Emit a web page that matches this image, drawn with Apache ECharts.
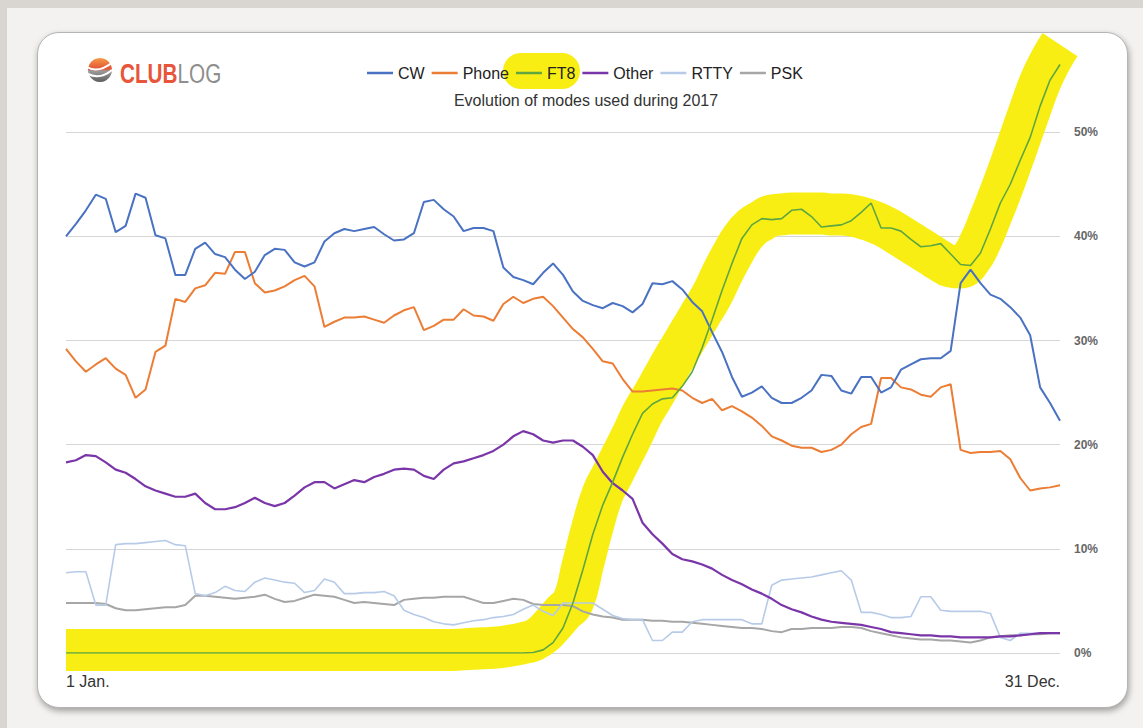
<!DOCTYPE html>
<html>
<head>
<meta charset="utf-8">
<script src="https://cdn.jsdelivr.net/npm/echarts@6/dist/echarts.min.js"></script>
<style>
html,body{margin:0;padding:0;width:1143px;height:728px;overflow:hidden;background:#f3f2f0;}
#frameL{position:absolute;left:0;top:0;width:7px;height:728px;background:#d9d6d2;}
#frameT{position:absolute;left:0;top:0;width:1143px;height:8px;background:#d9d6d2;}
#card{position:absolute;left:37px;top:32px;width:1089px;height:674px;border:1.5px solid #b5b5b5;border-radius:22px;background:#fff;box-shadow:1px 3px 6px rgba(0,0,0,0.35);}
#chart{position:absolute;left:0;top:0;width:1143px;height:728px;}
</style>
</head>
<body>
<div id="frameL"></div><div id="frameT"></div><div id="card"></div>
<div id="chart"></div>
<script>
// Tick labels of the time axis (first and last day of 2017)
var xLabels = ['1 Jan.', '31 Dec.'];
var seriesNames = ['CW', 'Phone', 'FT8', 'Other', 'RTTY', 'PSK'];
var chartTitle = 'Evolution of modes used during 2017';

// Shares in % sampled evenly through the year (101 samples)
var CW = [40.0,41.2,42.5,44.0,43.6,40.4,41.0,44.1,43.7,40.1,
  39.8,36.3,36.3,38.8,39.4,38.3,38.0,36.8,35.9,36.6,
  38.2,38.8,38.7,37.5,37.1,37.5,39.5,40.3,40.7,40.5,
  40.7,40.9,40.2,39.6,39.7,40.3,43.3,43.5,42.6,41.9,
  40.5,40.8,40.8,40.5,37.0,36.1,35.8,35.4,36.5,37.4,
  36.3,34.7,33.8,33.4,33.1,33.6,33.3,32.7,33.5,35.5,
  35.4,35.7,34.9,33.7,32.8,30.8,28.9,26.5,24.6,25.0,
  25.6,24.5,24.0,24.0,24.5,25.2,26.7,26.6,25.2,24.9,
  26.5,26.5,25.0,25.5,27.2,27.7,28.2,28.3,28.3,29.0,
  35.5,36.8,35.5,34.4,34.0,33.2,32.2,30.5,25.5,24.0,
  22.3];
var Phone = [29.2,28.0,27.0,27.7,28.3,27.3,26.7,24.5,25.3,28.9,
  29.5,34.0,33.7,35.0,35.3,36.5,36.4,38.5,38.5,35.5,
  34.6,34.8,35.2,35.8,36.2,35.2,31.3,31.8,32.2,32.2,
  32.3,32.0,31.7,32.4,32.9,33.2,31.0,31.4,32.0,32.0,
  33.0,32.4,32.3,31.9,33.5,34.2,33.6,34.0,34.2,33.3,
  32.2,31.1,30.3,29.2,28.0,27.8,26.3,25.1,25.1,25.2,
  25.3,25.4,25.2,24.5,24.0,24.4,23.3,23.7,23.2,22.6,
  21.8,20.8,20.4,19.9,19.7,19.7,19.3,19.5,20.0,21.0,
  21.7,22.0,26.4,26.4,25.5,25.3,24.8,24.6,25.5,25.8,
  19.5,19.2,19.3,19.3,19.4,18.6,16.8,15.6,15.8,15.9,
  16.1];
var FT8 = [0,0,0,0,0,0,0,0,0,0,
  0,0,0,0,0,0,0,0,0,0,
  0,0,0,0,0,0,0,0,0,0,
  0,0,0,0,0,0,0,0,0,0,
  0,0,0,0,0,0,0,0.05,0.3,1.0,
  2.4,4.8,8.0,11.4,14.2,16.4,18.8,21.0,23.0,23.9,
  24.4,24.5,25.6,27.0,29.3,32.0,34.8,37.4,39.8,41.1,
  41.7,41.6,41.7,42.5,42.6,41.9,40.9,41.0,41.1,41.5,
  42.3,43.2,40.8,40.8,40.5,39.7,39.0,39.1,39.3,38.3,
  37.3,37.2,38.4,40.7,43.2,45.0,47.3,49.5,52.5,55.0,
  56.5];
var Other = [18.3,18.5,19.0,18.9,18.3,17.6,17.3,16.7,16.0,15.6,
  15.3,15.0,15.0,15.3,14.4,13.8,13.8,14.0,14.4,14.9,
  14.4,14.1,14.4,15.1,15.9,16.4,16.4,15.8,16.2,16.6,
  16.4,16.9,17.2,17.6,17.7,17.6,17.0,16.7,17.6,18.2,
  18.4,18.7,19.0,19.4,20.0,20.8,21.3,21.0,20.4,20.2,
  20.4,20.4,19.8,19.0,17.4,16.3,15.6,14.8,12.5,11.4,
  10.5,9.5,9.0,8.8,8.5,8.1,7.5,7.0,6.6,6.1,
  5.7,5.2,4.6,4.2,3.9,3.5,3.2,3.0,2.9,2.8,
  2.7,2.5,2.3,2.0,1.9,1.8,1.7,1.7,1.6,1.6,
  1.5,1.5,1.5,1.5,1.6,1.6,1.7,1.8,1.9,1.9,
  1.9];
var RTTY = [7.7,7.8,7.8,4.6,4.6,10.4,10.5,10.5,10.6,10.7,
  10.8,10.4,10.3,5.7,5.5,5.8,6.4,6.0,5.9,6.8,
  7.2,7.0,6.8,6.7,5.8,6.0,7.1,6.8,5.7,5.7,
  5.8,5.8,5.9,5.5,4.1,3.7,3.4,3.0,2.8,2.7,
  2.9,3.1,3.2,3.4,3.5,3.7,4.2,4.6,4.0,3.6,
  4.8,4.8,4.8,4.8,4.2,3.6,3.3,3.2,3.2,1.2,
  1.2,2.0,2.0,3.0,3.2,3.2,3.2,3.2,3.2,2.8,
  2.8,6.5,7.0,7.1,7.2,7.3,7.5,7.7,7.9,7.0,
  3.9,3.9,3.7,3.4,3.4,3.5,5.4,5.4,4.1,4.0,
  4.0,4.0,4.0,3.8,1.5,1.2,1.9,1.9,1.9,1.9,
  1.9];
var PSK = [4.8,4.8,4.8,4.8,4.7,4.3,4.1,4.1,4.2,4.3,
  4.4,4.4,4.6,5.5,5.5,5.4,5.3,5.2,5.3,5.4,
  5.6,5.2,4.9,5.0,5.3,5.6,5.5,5.4,5.1,4.8,
  4.9,4.8,4.7,4.6,5.1,5.2,5.3,5.3,5.4,5.4,
  5.4,5.1,4.8,4.8,5.0,5.2,5.1,4.7,4.6,4.6,
  4.6,4.5,4.0,3.7,3.5,3.4,3.2,3.2,3.2,3.1,
  3.1,3.0,3.0,2.9,2.8,2.7,2.6,2.5,2.4,2.4,
  2.3,2.1,2.0,2.3,2.3,2.4,2.4,2.4,2.5,2.5,
  2.4,2.1,1.9,1.7,1.5,1.4,1.3,1.3,1.2,1.2,
  1.1,1.0,1.2,1.5,1.6,1.7,1.7,1.8,1.8,1.9,
  1.9];
// Hand-drawn yellow highlighter stroke over the FT8 curve (centre line, in %)
var FT8Marker = [0.3,0.3,0.3,0.3,0.3,0.3,0.3,0.3,0.3,0.3,
  0.3,0.3,0.3,0.3,0.3,0.3,0.3,0.3,0.3,0.3,
  0.3,0.3,0.3,0.3,0.3,0.3,0.3,0.3,0.3,0.3,
  0.3,0.3,0.3,0.3,0.3,0.3,0.3,0.3,0.3,0.3,
  0.35,0.4,0.45,0.5,0.6,0.75,0.95,1.2,1.8,2.8,
  3.9,4.9,8.5,12.2,15.3,17.2,19.1,21.0,23.0,24.6,
  26.3,28.0,29.6,31.2,32.8,34.4,36.4,38.2,39.8,40.9,
  41.5,42.0,42.1,42.2,42.2,42.2,42.2,42.1,42.1,42.0,
  41.8,41.5,41.1,40.6,40.0,39.4,38.8,38.2,37.6,37.1,
  37.0,37.8,39.5,41.8,44.2,46.8,49.5,52.2,54.8,56.8,
  58.4];

var N = CW.length;
var categories = [];
for (var i = 0; i < N; i++) categories.push(String(i));

var colors = {CW:'#4a72c2', Phone:'#ec7d35', FT8:'#5fa641', Other:'#7a35a8', RTTY:'#b7cbe8', PSK:'#a6a6a6'};
var values = {CW:CW, Phone:Phone, FT8:FT8, Other:Other, RTTY:RTTY, PSK:PSK};
var widths = {CW:2, Phone:2, FT8:1.6, Other:2.2, RTTY:1.6, PSK:2};

var chart = echarts.init(document.getElementById('chart'), null, {renderer:'svg'});

var series = [{
  name: 'highlight', type: 'line', data: FT8Marker, symbol: 'none', smooth: 0.5,
  z: 1, clip: false, silent: true,
  lineStyle: {color: '#f9ee14', width: 42, cap: 'butt', join: 'round'}
}];
['PSK','RTTY','Other','Phone','CW','FT8'].forEach(function(n){
  series.push({
    name: n, type: 'line', data: values[n], symbol: 'none', showSymbol: false,
    color: colors[n], z: 2,
    lineStyle: {color: colors[n], width: widths[n]}
  });
});

chart.setOption({
  animation: false,
  backgroundColor: 'transparent',
  textStyle: {fontFamily: 'Liberation Sans'},
  grid: {left: 66, right: 83, top: 28, bottom: 75},
  legend: {
    data: seriesNames, left: 362, top: 60, icon: 'rect',
    itemWidth: 26, itemHeight: 2.5, itemGap: 7,
    textStyle: {fontSize: 16, color: '#222', fontFamily: 'Liberation Sans'}
  },
  graphic: [
    {type: 'rect', z: 0, shape: {x: 503, y: 53, width: 77, height: 36, r: 18}, style: {fill: '#f9ee14'}},
    {type: 'text', x: 586, y: 100, style: {text: chartTitle, fontSize: 16, fontFamily: 'Liberation Sans', fill: '#333', align: 'center', verticalAlign: 'middle'}},
    {type: 'circle', shape: {cx: 100, cy: 70, r: 12}, style: {fill: new echarts.graphic.LinearGradient(0,0,0,1,[{offset:0,color:'#f59a48'},{offset:0.45,color:'#e25535'},{offset:0.55,color:'#9a9a9a'},{offset:1,color:'#5e5e5e'}])}},
    {type: 'bezierCurve', shape: {x1: 87, y1: 67, cpx1: 98, cpy1: 74, x2: 113, y2: 62}, style: {stroke: '#fff', lineWidth: 2, fill: null}},
    {type: 'bezierCurve', shape: {x1: 88, y1: 74, cpx1: 100, cpy1: 80, x2: 112, y2: 70}, style: {stroke: '#fff', lineWidth: 2, fill: null}},
    {type: 'text', x: 120, y: 73, scaleX: 0.74, style: {
      text: '{a|CLUB}{b|LOG}', verticalAlign: 'middle',
      rich: {
        a: {fontSize: 28, fontWeight: 'bold', fill: '#e8553a', color: '#e8553a', fontFamily: 'Liberation Sans'},
        b: {fontSize: 28, fill: '#8e8e8e', color: '#8e8e8e', fontFamily: 'Liberation Sans'}
      }
    }}
  ],
  xAxis: {
    type: 'category', data: categories, boundaryGap: false,
    axisLine: {show: false}, axisTick: {show: false}, splitLine: {show: false},
    axisLabel: {
      interval: function(idx){ return idx === 0 || idx === N - 1; },
      formatter: function(v, idx){ return idx === 0 ? xLabels[0] : (idx === N - 1 ? xLabels[1] : ''); },
      margin: 20, fontSize: 16, color: '#333',
      alignMinLabel: 'left', alignMaxLabel: 'right'
    }
  },
  yAxis: {
    type: 'value', position: 'right', min: 0, max: 60, interval: 10,
    axisLine: {show: false}, axisTick: {show: false},
    axisLabel: {formatter: '{value}%', margin: 14, fontSize: 12, fontWeight: 'bold', color: '#666', showMaxLabel: false},
    splitLine: {lineStyle: {color: '#d6d6d6', width: 1}, showMaxLine: false}
  },
  series: series
});
</script>
</body>
</html>
